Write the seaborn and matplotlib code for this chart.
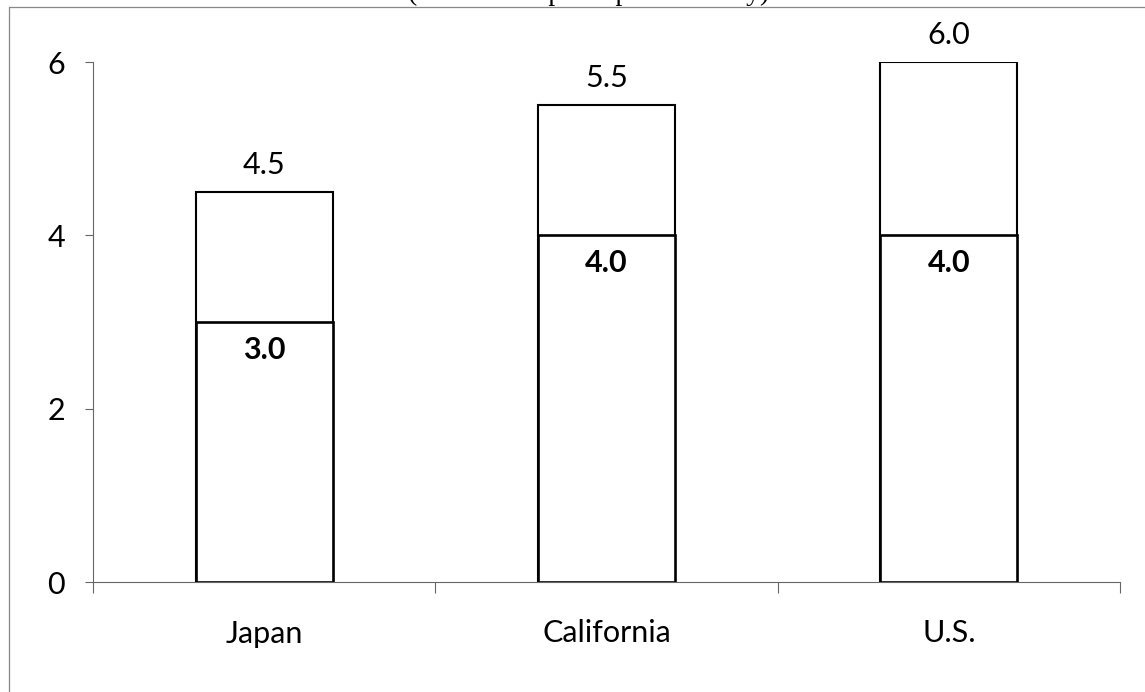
import matplotlib
matplotlib.use("Agg")
import matplotlib.pyplot as plt
import seaborn as sns
import pandas as pd
from matplotlib.lines import Line2D

# Data
regions = ["Japan", "California", "U.S."]
base_values = [3.0, 4.0, 4.0]
added_values = [1.5, 1.5, 2.0]
y_ticks = [0, 2, 4, 6]
title_text = "(metric tons per capita annually)"

totals = [b + a for b, a in zip(base_values, added_values)]
df = pd.DataFrame({"region": regions, "base": base_values, "total": totals})

sns.set_theme(style="ticks")
plt.rcParams["font.family"] = ["Lato", "DejaVu Sans"]

fig = plt.figure(figsize=(11.45, 6.92), dpi=100)
ax = fig.add_axes([93 / 1145, 110 / 692, 1027 / 1145, 520 / 692])

# Full-height bars first, then the base portion drawn over them
sns.barplot(data=df, x="region", y="total", color="white", saturation=1,
            edgecolor="black", linewidth=1.5, width=0.4, errorbar=None, ax=ax)
n_total = len(ax.patches)
sns.barplot(data=df, x="region", y="base", color="white", saturation=1,
            edgecolor="black", linewidth=1.9, width=0.4, errorbar=None, ax=ax)

total_bars = ax.patches[:n_total]
base_bars = ax.patches[n_total:]

for bar, t in zip(total_bars, totals):
    cx = bar.get_x() + bar.get_width() / 2
    ax.annotate(f"{t:.1f}", (cx, t), xytext=(0, 13), textcoords="offset pixels",
                ha="center", va="bottom", fontsize=22, color="black",
                annotation_clip=False)

for bar, b in zip(base_bars, base_values):
    cx = bar.get_x() + bar.get_width() / 2
    ax.annotate(f"{b:.1f}", (cx, b), xytext=(0, -14), textcoords="offset pixels",
                ha="center", va="top", fontsize=22, fontweight="bold",
                color="black", annotation_clip=False)

ax.set_xlim(-0.5, 2.5)
ax.set_ylim(0, 6)
ax.set_yticks(y_ticks)
ax.set_xlabel("")
ax.set_ylabel("")
sns.despine(ax=ax)
for side in ("left", "bottom"):
    ax.spines[side].set_color("#666666")
    ax.spines[side].set_linewidth(0.8)

ax.tick_params(axis="y", left=True, length=6, width=0.8, color="#666666",
               pad=14, labelsize=22, labelcolor="black")
ax.tick_params(axis="x", which="major", bottom=True, length=0, pad=27,
               labelsize=22, labelcolor="black")
ax.set_xticks([-0.5, 0.5, 1.5, 2.5], minor=True)
ax.tick_params(axis="x", which="minor", bottom=True, length=8, width=0.8,
               color="#666666")

# Chart-area frame
fx = 9 / 1145
fy = 1 - 7 / 692
fig.add_artist(Line2D([fx, 1.0], [fy, fy], transform=fig.transFigure,
                      color="#888888", linewidth=0.9))
fig.add_artist(Line2D([fx, fx], [0.0, fy], transform=fig.transFigure,
                      color="#888888", linewidth=0.9))

# Heading sitting at the top edge of the figure
fig.text(0.514, 1.0, title_text, ha="center", va="baseline", fontsize=20,
         family=["Liberation Serif"], color="black")

fig.savefig("out.png", dpi=100)
